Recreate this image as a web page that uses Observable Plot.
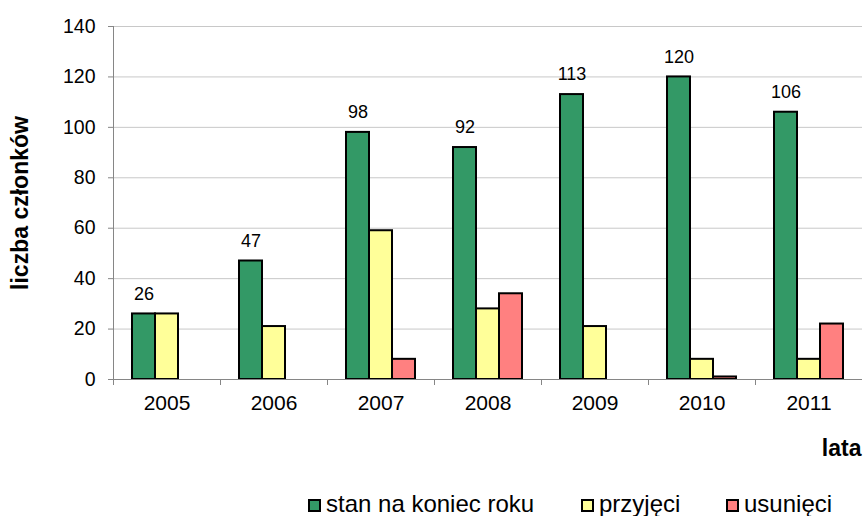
<!DOCTYPE html>
<html>
<head>
<meta charset="utf-8">
<script src="https://cdn.jsdelivr.net/npm/d3@7"></script>
<script src="https://cdn.jsdelivr.net/npm/@observablehq/plot@0.6"></script>
<style>
  body { margin: 0; background: #fff; font-family: "Liberation Sans", Arial, sans-serif; }
  #wrap { position: relative; width: 864px; height: 516px; overflow: hidden; }
  g[aria-label="y-axis label"] text, g[aria-label="fx-axis label"] text { font-weight: bold; font-size: 23px; }
  #legend { position: absolute; left: 0; top: 492px; width: 864px; height: 24px; font-size: 24px; line-height: 24px; color: #000; }
  .sw { position: absolute; top: 7px; width: 9px; height: 9px; border: 2px solid #000; }
  .lt { position: absolute; top: 0; white-space: nowrap; }
</style>
</head>
<body>
<div id="wrap">
  <div id="chart"></div>
  <div id="legend"></div>
</div>
<script>
const years = ["2005", "2006", "2007", "2008", "2009", "2010", "2011"];
const seriesNames = ["stan na koniec roku", "przyjęci", "usunięci"];
const seriesColors = ["#339966", "#FFFF99", "#FF8080"];
const stan = [26, 47, 98, 92, 113, 120, 106];
const przyjeci = [26, 21, 59, 28, 21, 8, 8];
const usunieci = [null, null, 8, 34, null, 1, 22];
const yTicks = [0, 20, 40, 60, 80, 100, 120, 140];
const yLabel = "liczba członków";
const xLabel = "lata";

const allSeries = [stan, przyjeci, usunieci];
const data = [];
years.forEach((yr, i) => {
  seriesNames.forEach((s, j) => {
    const v = allSeries[j][i];
    if (v != null) data.push({year: yr, series: s, value: v});
  });
});
const stanData = years.map((yr, i) => ({year: yr, series: seriesNames[0], value: stan[i]}));

const chart = Plot.plot({
  width: 864,
  height: 484,
  marginTop: 26,
  marginBottom: 105,
  marginLeft: 113,
  marginRight: 2,
  style: {fontFamily: "'Liberation Sans', Arial, sans-serif", fontSize: "19.5px", color: "#000", background: "#fff"},
  fx: {domain: years, padding: 0},
  x: {domain: seriesNames, paddingInner: 0, paddingOuter: 0.73, axis: null},
  y: {domain: [0, 140], labelArrow: false},
  color: {domain: seriesNames, range: seriesColors},
  marks: [
    Plot.gridY(yTicks, {stroke: "#c8c8c8", strokeOpacity: 1, strokeWidth: 1}),
    Plot.barY(data, {fx: "year", x: "series", y: "value", fill: "series", stroke: "#000", strokeWidth: 2}),
    Plot.text(stanData, {fx: "year", x: "series", y: "value", text: d => String(d.value), dy: -20, fontSize: 18, fill: "#000"}),
    Plot.ruleY([0], {stroke: "#868686", strokeWidth: 1}),
    Plot.frame({anchor: "left", stroke: "#868686", insetTop: 353, insetBottom: -5}),
    Plot.frame({anchor: "left", stroke: "#868686", fx: () => years[0]}),
    Plot.axisY(yTicks, {anchor: "left", tickSize: 5, tickPadding: 13, stroke: "#868686", fontSize: 19.5, fill: "#000",
      label: yLabel, labelAnchor: "center", labelOffset: 102, labelArrow: false}),
    Plot.axisFx({anchor: "bottom", tickSize: 0, tickPadding: 16, fontSize: 21, label: xLabel, labelAnchor: "right", labelOffset: 76, labelArrow: false})
  ]
});
document.getElementById("chart").appendChild(chart);

const legend = document.getElementById("legend");
const legendX = [308, 581, 726];
seriesNames.forEach((s, j) => {
  const sw = document.createElement("div");
  sw.className = "sw";
  sw.style.left = legendX[j] + "px";
  sw.style.background = seriesColors[j];
  legend.appendChild(sw);
  const t = document.createElement("div");
  t.className = "lt";
  t.style.left = (legendX[j] + 18) + "px";
  t.textContent = s;
  legend.appendChild(t);
});
</script>
</body>
</html>
